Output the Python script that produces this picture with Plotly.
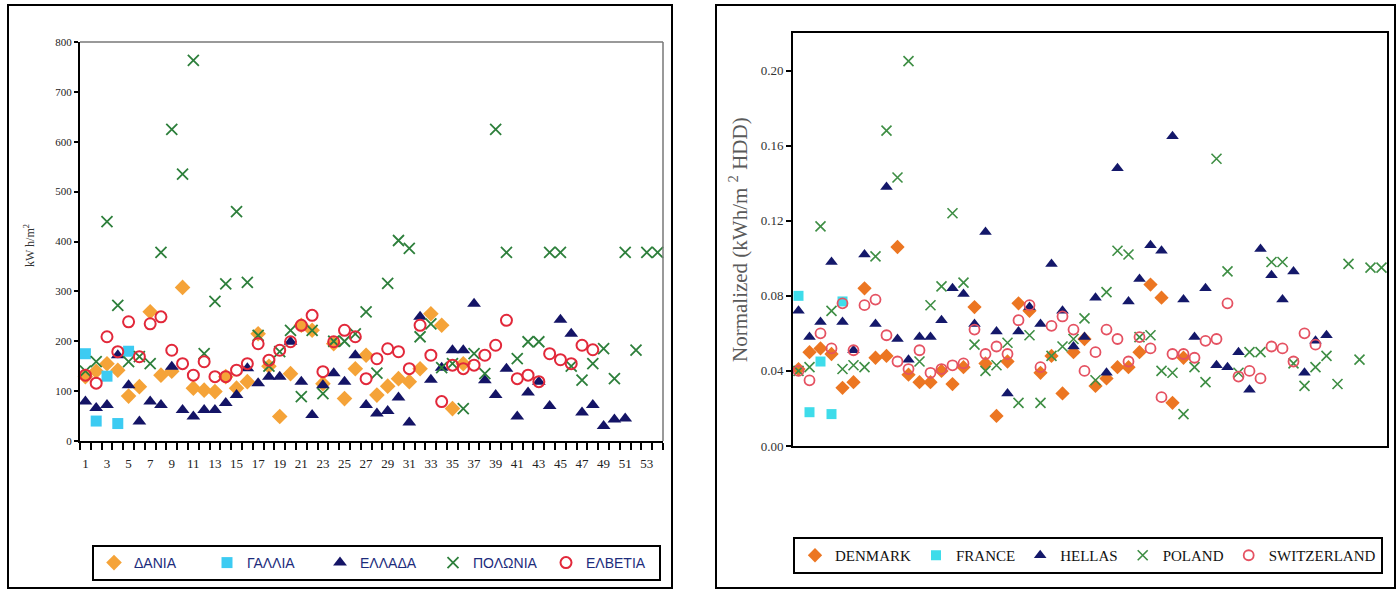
import plotly.graph_objects as go

# ---------------- data (left panel: kWh/m2) ----------------
cats_left_labels = list(range(1, 54, 2))
gr_names = ["ΔΑΝΙΑ", "ΓΑΛΛΙΑ", "ΕΛΛΑΔΑ", "ΠΟΛΩΝΙΑ", "ΕΛΒΕΤΙΑ"]
en_names = ["DENMARK", "FRANCE", "HELLAS", "POLAND", "SWITZERLAND"]

denmark_kwh = [129, 140, 155, 142, 90, 109, 259, 132, 140, 308, 106, 102, 99, 129, 106, 119, 215, 150,
               49, 135, 232, 222, 115, 195, 85, 145, 172, 92, 110, 125, 119, 145, 255, 232, 65, 155]
france_kwh = [175, 40, 130, 35, 180]
hellas_kwh = [79, 66, 72, 172, 112, 39, 79, 72, 149, 62, 49, 62, 62, 76, 92, 146, 116, 129, 129, 199,
              119, 52, 112, 136, 119, 172, 72, 55, 60, 87, 37, 249, 123, 147, 182, 182, 275, 122, 92,
              145, 49, 97, 119, 70, 243, 215, 57, 72, 30, 43, 45]
poland_kwh = [140, 159, 440, 272, 159, 169, 155, 378, 625, 535, 763, 175, 280, 315, 460, 318, 212, 150,
              179, 222, 89, 222, 95, 200, 200, 215, 259, 136, 316, 402, 386, 209, 235, 147, 155, 65, 175,
              135, 625, 378, 165, 199, 199, 378, 378, 150, 122, 155, 185, 125, 378, 182, 378, 378]
swiss_kwh = [132, 116, 209, 179, 239, 169, 235, 249, 182, 155, 132, 159, 129, 129, 142, 155, 195, 162,
             182, 199, 232, 252, 139, 199, 222, 209, 125, 165, 185, 179, 145, 232, 172, 79, 152, 145,
             152, 172, 192, 242, 125, 132, 119, 175, 163, 155, 192, 183]

# ---------------- data (right panel: normalized kWh/m2 HDD) ----------------
denmark_norm = [0.041, 0.050, 0.052, 0.049, 0.031, 0.034, 0.084, 0.047, 0.048, 0.106, 0.038, 0.034,
                0.034, 0.040, 0.033, 0.042, 0.074, 0.044, 0.016, 0.045, 0.076, 0.072, 0.039, 0.048,
                0.028, 0.050, 0.057, 0.032, 0.036, 0.042, 0.042, 0.050, 0.086, 0.079, 0.023, 0.047]
france_norm = [0.080, 0.018, 0.045, 0.017, 0.077]
hellas_norm = [0.072, 0.058, 0.066, 0.098, 0.066, 0.051, 0.102, 0.065, 0.138, 0.057, 0.046, 0.058,
               0.058, 0.067, 0.084, 0.081, 0.065, 0.114, 0.061, 0.028, 0.061, 0.074, 0.065, 0.097,
               0.072, 0.053, 0.058, 0.079, 0.039, 0.148, 0.077, 0.089, 0.107, 0.104, 0.165, 0.078,
               0.058, 0.084, 0.043, 0.042, 0.050, 0.030, 0.105, 0.091, 0.078, 0.093, 0.039, 0.056, 0.059]
poland_norm = [0.040, 0.042, 0.117, 0.072, 0.041, 0.043, 0.042, 0.101, 0.168, 0.143, 0.205, 0.045,
               0.075, 0.085, 0.124, 0.087, 0.054, 0.040, 0.043, 0.055, 0.023, 0.059, 0.023, 0.048,
               0.053, 0.057, 0.068, 0.035, 0.082, 0.104, 0.102, 0.058, 0.059, 0.040, 0.039, 0.017,
               0.042, 0.034, 0.153, 0.093, 0.039, 0.050, 0.050, 0.098, 0.098, 0.044, 0.032, 0.042,
               0.048, 0.033, 0.097, 0.046, 0.095, 0.095]
swiss_norm = [0.040, 0.035, 0.060, 0.052, 0.076, 0.051, 0.075, 0.078, 0.059, 0.045, 0.041, 0.051,
              0.039, 0.041, 0.043, 0.044, 0.062, 0.049, 0.053, 0.049, 0.067, 0.075, 0.042, 0.064,
              0.069, 0.062, 0.040, 0.050, 0.062, 0.057, 0.045, 0.058, 0.052, 0.026, 0.049, 0.049,
              0.047, 0.056, 0.057, 0.076, 0.037, 0.040, 0.036, 0.053, 0.052, 0.045, 0.060, 0.054]

left_series = [denmark_kwh, france_kwh, hellas_kwh, poland_kwh, swiss_kwh]
right_series = [denmark_norm, france_norm, hellas_norm, poland_norm, swiss_norm]

symbols = ["diamond", "square", "triangle-up", "x-thin-open", "circle-open"]
left_colors = ["#F5A338", "#3CCBF2", "#141466", "#2D7F3B", "#E2283A"]
right_colors = ["#EC7622", "#3EDCEA", "#14186A", "#3E8E44", "#E55262"]
sizes = [12, 11, 12, 11, 11]

W, H = 1400, 590
def px(x):
    return x / W
def py(y):
    return 1 - y / H

fig = go.Figure()

for i in range(5):
    vals = left_series[i]
    mk = dict(symbol=symbols[i], size=sizes[i], color=left_colors[i])
    if symbols[i] == "x-thin-open":
        mk["line"] = dict(color=left_colors[i], width=1.8)
    elif symbols[i] == "circle-open":
        mk["line"] = dict(color=left_colors[i], width=2)
    else:
        mk["line"] = dict(width=0)
    fig.add_trace(go.Scatter(x=list(range(1, len(vals) + 1)), y=vals, mode="markers",
                             name=gr_names[i], marker=mk, xaxis="x", yaxis="y",
                             legend="legend", cliponaxis=False))

for i in range(5):
    vals = right_series[i]
    mk = dict(symbol=symbols[i], size=sizes[i] - 1, color=right_colors[i])
    if symbols[i] == "x-thin-open":
        mk["line"] = dict(color=right_colors[i], width=1.6)
    elif symbols[i] == "circle-open":
        mk["line"] = dict(color=right_colors[i], width=1.8)
    else:
        mk["line"] = dict(width=0)
    fig.add_trace(go.Scatter(x=list(range(1, len(vals) + 1)), y=vals, mode="markers",
                             name=en_names[i], marker=mk, xaxis="x2", yaxis="y2",
                             legend="legend2", cliponaxis=False))

serif = "Liberation Serif, Times New Roman, serif"

fig.update_layout(
    width=W, height=H, margin=dict(l=0, r=0, t=0, b=0, autoexpand=False),
    paper_bgcolor="white", plot_bgcolor="white",
    xaxis=dict(domain=[px(80), px(663)], range=[0.5, 54.5], anchor="y",
               tickvals=cats_left_labels, ticktext=[str(v) for v in cats_left_labels],
               ticks="outside", ticklen=9, tickcolor="rgba(0,0,0,0)",
               showgrid=False, zeroline=False,
               showline=True, linecolor="black", linewidth=2,
               tickfont=dict(family=serif, size=13, color="#222"),
               minor=dict(tickvals=[k + 0.5 for k in range(0, 55)], ticks="outside",
                          ticklen=7, tickwidth=1.5, tickcolor="black", showgrid=False)),
    yaxis=dict(domain=[py(441), py(42)], range=[0, 800], anchor="x",
               tickvals=list(range(0, 801, 100)), ticks="outside", ticklen=4, tickwidth=1.5,
               tickcolor="black", showgrid=False, zeroline=False,
               showline=True, linecolor="black", linewidth=2,
               tickfont=dict(family=serif, size=11, color="#222")),
    xaxis2=dict(domain=[px(793), px(1387)], range=[0.5, 54.5], anchor="y2",
                showticklabels=False, ticks="", showgrid=False, zeroline=False,
                showline=True, linecolor="black", linewidth=2, mirror=True),
    yaxis2=dict(domain=[py(446), py(33)], range=[0, 0.22], anchor="x2",
                tickvals=[0, 0.04, 0.08, 0.12, 0.16, 0.20],
                ticktext=["0.00", "0.04", "0.08", "0.12", "0.16", "0.20"],
                ticks="outside", ticklen=5, tickwidth=1.5, tickcolor="black",
                showgrid=False, zeroline=False,
                showline=True, linecolor="black", linewidth=2, mirror=True,
                tickfont=dict(family=serif, size=13, color="#333")),
    legend=dict(orientation="h", x=px(92), y=py(545), xanchor="left", yanchor="top",
                bgcolor="white", bordercolor="black", borderwidth=2,
                font=dict(family="Liberation Sans Narrow, Liberation Sans, Arial", size=14, color="#1c2c7c"),
                entrywidth=68, entrywidthmode="pixels", itemwidth=30, tracegroupgap=0),
    legend2=dict(orientation="h", x=px(793), y=py(537), xanchor="left", yanchor="top",
                 bgcolor="white", bordercolor="black", borderwidth=2,
                 font=dict(family=serif, size=15, color="#111"),
                 itemwidth=30, tracegroupgap=0),
    showlegend=True,
)

shapes = [
    # outer frames
    dict(type="rect", xref="paper", yref="paper", x0=px(8), x1=px(672), y0=py(588), y1=py(5),
         line=dict(color="black", width=2), layer="below"),
    dict(type="rect", xref="paper", yref="paper", x0=px(716), x1=px(1395), y0=py(588), y1=py(5),
         line=dict(color="black", width=2), layer="below"),
    # left plot-area top and right border (grey)
    dict(type="line", xref="paper", yref="paper", x0=px(80), x1=px(663), y0=py(42), y1=py(42),
         line=dict(color="#777", width=1.5)),
    dict(type="line", xref="paper", yref="paper", x0=px(663), x1=px(663), y0=py(42), y1=py(441),
         line=dict(color="#777", width=1.5)),
]
fig.update_layout(shapes=shapes)

annotations = [
    dict(text="kW h/m<sup>2</sup>", xref="paper", yref="paper", x=px(29), y=py(245),
         textangle=-90, showarrow=False, font=dict(family=serif, size=12, color="#333"),
         xanchor="center", yanchor="middle"),
    dict(text="Normalized (kWh/m <sup>2</sup> HDD)", xref="paper", yref="paper", x=px(738), y=py(240),
         textangle=-90, showarrow=False, font=dict(family=serif, size=21, color="#5a5a5a"),
         xanchor="center", yanchor="middle"),
]
fig.update_layout(annotations=annotations)

fig.write_html("out.html", config={"displayModeBar": False},
               post_script="document.body.style.margin='0';")
